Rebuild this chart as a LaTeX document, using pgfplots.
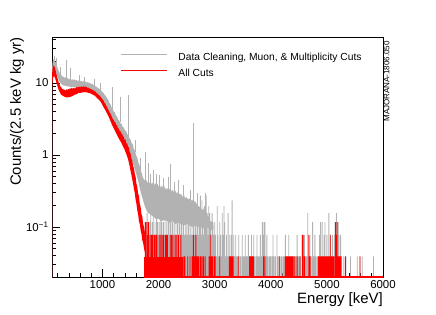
\documentclass[border=0pt]{standalone}
\usepackage{fontspec}
\setmainfont{Liberation Sans}
\usepackage{pgfplots}
\pgfplotsset{compat=1.18}
\definecolor{rgray}{rgb}{0.70,0.70,0.70}
\begin{document}
\begin{tikzpicture}
\path[use as bounding box] (0,0) rectangle (436bp,315bp);
\begin{axis}[
  at={(52bp,38bp)}, anchor=south west,
  scale only axis, width=331bp, height=240bp,
  xmin=100, xmax=6000, ymode=log, ymin=0.0202, ymax=43.5,
  log origin y=infty,
  axis on top=false,
  axis line style={line width=0.9bp},
  xtick={1000,2000,3000,4000,5000,6000},
  xticklabels={1000,2000,3000,4000,5000,6000},
  minor xtick={200,400,600,800,1200,1400,1600,1800,2200,2400,2600,2800,3200,3400,3600,3800,4200,4400,4600,4800,5200,5400,5600,5800},
  ytick={0.1,1,10},
  yticklabels={10\textsuperscript{\textminus1},1,10},
  minor ytick={0.03,0.04,0.05,0.06,0.07,0.08,0.09,0.2,0.3,0.4,0.5,0.6,0.7,0.8,0.9,2,3,4,5,6,7,8,9,20,30,40},
  xtick pos=bottom, ytick pos=left, tick align=inside,
  major tick length=8bp, minor tick length=4bp,
  tick style={black, line width=0.6bp},
  ticklabel style={font=\fontsize{11.5}{13}\selectfont},
  xlabel={Energy [keV]},
  xlabel style={at={(axis description cs:1,-0.096)}, anchor=east, font=\fontsize{15}{17}\selectfont, inner sep=0pt},
  ylabel={Counts/(2.5 keV kg yr)},
  ylabel style={at={(axis description cs:-0.1057,1)}, anchor=east, font=\fontsize{15}{17}\selectfont, inner sep=0pt},
  legend style={at={(axis description cs:0.2054,0.932)}, anchor=north west, draw=none, fill=none, inner sep=0pt, row sep=6.5bp, column sep=11bp, font=\fontsize{10.3}{12}\selectfont, nodes={inner sep=0pt, text height=7.4bp, text depth=2.1bp}},
  legend cell align=left,
  legend image code/.code={\draw[#1] (0bp,3.5bp) -- (46bp,3.5bp);},
  after end axis/.code={\node[rotate=90, font=\fontsize{8}{9}\selectfont, inner sep=0pt] at (rel axis cs:1.0106,0.8146) {MAJORANA-1806.050};},
]
% ---- gray: band
\addplot[draw=none, fill=rgray, forget plot] coordinates {
(100,0.005) (100,15) (108,18.5) (115,20.5) (125,21.5) (135,20.2) (145,21) (155,19.6) (165,19.8) (175,18.2) (185,17.6) (195,16.4) (210,15.4) (225,14.2) (240,13.8) (255,13.0) (270,12.8) (285,12.2) (300,12.3) (320,11.8) (340,12.0) (360,11.5) (380,11.7) (400,11.2) (420,11.4) (440,11.0) (460,11.3) (480,10.9) (500,11.2) (520,10.8) (540,11.0) (560,10.6) (580,10.9) (600,10.5) (620,10.8) (640,10.4) (660,10.6) (680,10.3) (700,10.5) (720,10.1) (740,10.3) (760,9.9) (780,10.0) (800,9.6) (820,9.7) (840,9.3) (860,9.3) (880,8.9) (900,8.9) (920,8.4) (940,8.4) (960,7.9) (980,7.9) (1000,7.4) (1020,7.3) (1040,6.8) (1060,6.6) (1080,6.1) (1100,5.9) (1120,5.3) (1140,5.1) (1160,4.6) (1180,4.4) (1200,4.0) (1220,3.9) (1240,3.5) (1260,3.4) (1280,3.1) (1300,3.0) (1320,2.75) (1340,2.7) (1360,2.45) (1380,2.4) (1400,2.2) (1420,2.15) (1440,1.95) (1460,1.9) (1480,1.7) (1500,1.65) (1520,1.45) (1540,1.4) (1560,1.2) (1580,1.15) (1600,0.98) (1620,0.92) (1640,0.78) (1660,0.72) (1680,0.6) (1700,0.56) (1720,0.48) (1740,0.46) (1760,0.44) (1780,0.45) (1800,0.41) (1820,0.44) (1840,0.40) (1860,0.43) (1880,0.39) (1900,0.42) (1920,0.38) (1940,0.41) (1960,0.37) (1980,0.40) (2000,0.36) (2020,0.39) (2040,0.35) (2060,0.38) (2080,0.34) (2100,0.37) (2125,0.33) (2150,0.35) (2175,0.32) (2200,0.34) (2225,0.31) (2250,0.33) (2275,0.3) (2300,0.32) (2325,0.29) (2350,0.31) (2375,0.28) (2400,0.29) (2425,0.26) (2450,0.28) (2475,0.25) (2500,0.26) (2525,0.24) (2550,0.25) (2575,0.23) (2600,0.24) (2625,0.22) (2650,0.23) (2675,0.21) (2700,0.2) (2725,0.19) (2750,0.19) (2775,0.17) (2800,0.18) (2825,0.16) (2850,0.16) (2875,0.14) (2900,0.14) (2925,0.12) (2950,0.12) (2975,0.105)
(2975,0.095) (2950,0.09) (2900,0.095) (2850,0.1) (2800,0.095) (2750,0.1) (2700,0.1) (2650,0.105) (2600,0.1) (2550,0.105) (2500,0.11) (2450,0.105) (2400,0.11) (2350,0.115) (2300,0.11) (2250,0.12) (2200,0.115) (2150,0.12) (2100,0.125) (2050,0.12) (2000,0.13) (1950,0.13) (1900,0.14) (1850,0.15) (1800,0.16) (1760,0.19) (1740,0.21) (1720,0.24) (1700,0.27) (1680,0.31) (1660,0.36) (1640,0.42) (1620,0.48) (1600,0.55) (1580,0.62) (1560,0.7) (1540,0.78) (1520,0.86) (1500,0.95) (1480,1.05) (1460,1.15) (1440,1.25) (1420,1.35) (1400,1.45) (1380,1.55) (1360,1.65) (1340,1.75) (1320,1.85) (1300,1.95) (1280,2.05) (1260,2.15) (1240,2.3) (1220,2.45) (1200,2.6) (1180,2.8) (1160,3.0) (1140,3.3) (1120,3.6) (1100,3.9) (1080,4.2) (1060,4.5) (1040,4.8) (1020,5.1) (1000,5.4) (980,5.7) (960,6.0) (940,6.3) (920,6.6) (900,6.9) (880,7.1) (860,7.3) (840,7.5) (820,7.7) (800,7.8) (780,7.9) (760,8.0) (740,8.1) (720,8.2) (700,8.3) (650,8.4) (600,8.5) (550,8.6) (500,8.7) (450,8.8) (400,8.9) (350,9.1) (300,9.3) (270,9.6) (240,10.3) (210,11.5) (180,13.3) (160,14.5) (140,15) (125,14.5) (110,13) (103,11) (103,0.005)
};
% ---- gray: tall single-bin spikes above the band
\addplot[rgray, line width=0.8bp, unbounded coords=jump, forget plot] coordinates {
(150,19) (150,23.5) (150,nan) (185,17) (185,22.5) (185,nan) (250,13) (250,16.5) (250,nan)
(362,11) (362,21) (362,nan) (420,11) (420,16) (420,nan)
(594,10.5) (594,13) (594,nan) (671,10.3) (671,12) (671,nan)
(860,9.2) (860,11.5) (860,nan) (960,7.8) (960,10) (960,nan)
(1177,4.4) (1177,8.7) (1177,nan)
(1314,2.9) (1314,6.4) (1314,nan) (1463,1.8) (1463,6.7) (1463,nan)
(1580,1.1) (1580,1.6) (1580,nan) (1680,0.6) (1680,0.9) (1680,nan)
(1773,0.4) (1773,1.1) (1773,nan) (1821,0.4) (1821,0.77) (1821,nan) (1850,0.4) (1850,0.55) (1850,nan) (1916,0.38) (1916,0.62) (1916,nan)
(1960,0.36) (1960,0.55) (1960,nan) (2020,0.36) (2020,0.52) (2020,nan) (2080,0.33) (2080,0.48) (2080,nan) (2170,0.3) (2170,0.5) (2170,nan)
(2204,0.3) (2204,0.75) (2204,nan) (2290,0.3) (2290,0.42) (2290,nan) (2350,0.28) (2350,0.45) (2350,nan) (2450,0.25) (2450,0.38) (2450,nan)
(2560,0.22) (2560,0.33) (2560,nan) (2615,0.22) (2615,2.8) (2615,nan) (2700,0.18) (2700,0.3) (2700,nan) (2830,0.15) (2830,0.3) (2830,nan)
};
% ---- gray: low-count bins in the tail (counts of 1,2,3,... = 0.039, 0.078, 0.117, ...)
\addplot[ybar, bar width=0.85bp, bar shift=0pt, draw=none, fill=rgray, forget plot] coordinates {
(1765,0.117) (1780,0.078) (1795,0.156) (1810,0.117) (1830,0.078) (1845,0.117) (1860,0.2) (1875,0.078) (1890,0.117) (1905,0.156) (1920,0.078) (1935,0.117) (1950,0.078) (1965,0.156) (1980,0.117) (1995,0.078) (2010,0.117) (2025,0.078) (2040,0.156) (2055,0.117) (2070,0.078) (2085,0.117) (2100,0.078) (2115,0.156) (2130,0.078) (2145,0.117) (2160,0.078) (2175,0.117) (2190,0.078) (2205,0.117) (2220,0.156) (2235,0.078) (2250,0.117) (2265,0.078) (2280,0.117) (2295,0.078) (2310,0.156) (2325,0.078) (2340,0.117) (2355,0.078) (2370,0.117) (2385,0.078) (2400,0.156) (2415,0.117) (2430,0.078) (2445,0.117) (2460,0.078) (2475,0.117) (2490,0.078) (2505,0.117) (2520,0.078) (2535,0.156) (2550,0.078) (2565,0.117) (2580,0.078) (2595,0.117) (2610,0.078) (2625,0.117) (2640,0.078) (2655,0.117) (2670,0.078) (2685,0.117) (2700,0.156) (2715,0.078) (2730,0.117) (2745,0.273) (2760,0.078) (2775,0.234) (2790,0.117) (2805,0.078) (2820,0.195) (2835,0.117) (2850,0.273) (2865,0.156) (2880,0.078) (2895,0.195) (2910,0.156) (2925,0.117) (2940,0.078) (2955,0.156) (2970,0.117) (2985,0.078) (3000,0.117) (3015,0.078) (3030,0.039) (3045,0.195) (3060,0.078) (3075,0.039) (3090,0.117) (3105,0.078) (3120,0.039) (3135,0.156) (3150,0.078) (3165,0.195) (3180,0.117) (3195,0.039) (3210,0.078) (3225,0.039) (3240,0.156) (3255,0.039) (3270,0.078) (3285,0.039) (3300,0.078) (3310,0.234) (3325,0.039) (3340,0.078) (3355,0.039) (3375,0.078) (3395,0.039) (3415,0.039) (3430,0.078) (3450,0.039) (3470,0.039) (3490,0.078) (3505,0.039) (3525,0.039) (3545,0.078) (3560,0.039) (3580,0.039) (3600,0.078) (3620,0.039) (3640,0.039) (3655,0.078) (3675,0.039) (3695,0.078) (3715,0.039) (3735,0.039) (3755,0.078) (3775,0.039) (3795,0.039) (3815,0.078) (3835,0.039) (3850,0.117) (3865,0.078) (3880,0.117) (3895,0.117) (3910,0.039) (3930,0.078) (3950,0.039) (3975,0.039) (3995,0.039) (4020,0.039) (4040,0.078) (4060,0.039) (4085,0.039) (4110,0.078) (4130,0.039) (4155,0.039) (4180,0.039) (4200,0.039) (4225,0.039) (4245,0.039) (4260,0.078) (4280,0.039) (4300,0.039) (4320,0.078) (4340,0.039) (4365,0.039) (4385,0.039) (4405,0.039) (4425,0.039) (4450,0.039) (4470,0.078) (4490,0.039) (4510,0.039) (4530,0.039) (4560,0.078) (4580,0.039) (4600,0.078) (4620,0.039) (4640,0.039) (4660,0.156) (4680,0.039) (4700,0.078) (4720,0.039) (4745,0.117) (4765,0.039) (4785,0.078) (4805,0.039) (4830,0.039) (4850,0.039) (4870,0.078) (4885,0.117) (4900,0.039) (4915,0.117) (4935,0.039) (4950,0.078) (4965,0.117) (4985,0.039) (5000,0.078) (5015,0.039) (5035,0.156) (5050,0.039) (5065,0.078) (5080,0.039) (5100,0.078) (5115,0.039) (5130,0.078) (5145,0.117) (5170,0.156) (5185,0.039) (5200,0.117) (5215,0.078) (5230,0.039) (5245,0.078) (5260,0.039) (5300,0.039) (5340,0.039) (5420,0.039) (5540,0.039) (5590,0.039) (5630,0.039) (5830,0.039)
};
% ---- red: band
\addplot[draw=none, fill=red, forget plot] coordinates {
(100,0.005) (100,12.5) (108,15.5) (115,16.8) (125,17.6) (135,16.5) (145,17.2) (155,15.8) (165,14.8) (175,13.6) (185,12.8) (195,11.8) (210,10.8) (225,9.8) (240,9.4) (255,8.8) (270,8.6) (285,8.2) (300,8.3) (315,7.9) (330,8.1) (345,7.8) (360,8.2) (375,8.0) (390,8.3) (405,8.1) (420,8.5) (435,8.2) (450,8.6) (465,8.3) (480,8.5) (495,8.3) (510,8.6) (525,8.5) (540,8.8) (555,8.6) (570,8.9) (585,8.7) (600,8.9) (615,8.7) (630,9.0) (645,8.8) (660,9.0) (675,8.8) (690,9.0) (705,8.7) (720,8.8) (735,8.5) (750,8.6) (765,8.3) (780,8.4) (795,8.1) (810,8.2) (825,7.9) (840,8.0) (855,7.6) (870,7.7) (885,7.3) (900,7.3) (915,7.0) (930,6.9) (945,6.7) (960,6.6) (975,6.2) (990,6.1) (1005,5.8) (1020,5.7) (1035,5.3) (1050,5.2) (1065,4.8) (1080,4.7) (1095,4.3) (1110,4.2) (1125,3.9) (1140,3.8) (1155,3.5) (1170,3.4) (1185,3.1) (1200,3.1) (1215,2.85) (1230,2.85) (1245,2.6) (1260,2.6) (1275,2.35) (1290,2.35) (1305,2.15) (1320,2.15) (1335,1.95) (1350,2.0) (1365,1.8) (1380,1.8) (1395,1.6) (1410,1.65) (1425,1.45) (1440,1.45) (1455,1.3) (1470,1.28) (1485,1.1) (1500,1.05) (1515,0.9) (1530,0.85) (1545,0.7) (1560,0.66) (1575,0.55) (1590,0.5) (1605,0.4) (1620,0.36) (1635,0.29) (1650,0.27) (1665,0.21) (1680,0.19) (1695,0.15) (1710,0.14) (1725,0.11) (1740,0.1) (1755,0.085)
(1755,0.045) (1740,0.05) (1725,0.06) (1710,0.065) (1695,0.08) (1680,0.09) (1665,0.11) (1650,0.12) (1635,0.15) (1620,0.17) (1605,0.21) (1590,0.24) (1575,0.3) (1560,0.34) (1545,0.4) (1530,0.46) (1515,0.53) (1500,0.6) (1485,0.7) (1470,0.78) (1455,0.88) (1440,0.95) (1425,1.03) (1410,1.1) (1395,1.18) (1380,1.25) (1365,1.32) (1350,1.4) (1335,1.48) (1320,1.55) (1305,1.62) (1290,1.7) (1275,1.8) (1260,1.9) (1245,2.0) (1230,2.1) (1215,2.22) (1200,2.35) (1185,2.48) (1170,2.6) (1155,2.8) (1140,3.0) (1125,3.2) (1110,3.4) (1095,3.6) (1080,3.8) (1065,4.0) (1050,4.2) (1035,4.4) (1020,4.6) (1005,4.85) (990,5.1) (975,5.35) (960,5.6) (945,5.75) (930,5.9) (915,6.05) (900,6.2) (885,6.4) (870,6.6) (855,6.7) (840,6.8) (825,6.9) (810,7.0) (795,7.1) (780,7.2) (765,7.25) (750,7.3) (735,7.35) (720,7.4) (705,7.45) (690,7.5) (675,7.45) (660,7.4) (645,7.4) (630,7.4) (615,7.3) (600,7.3) (585,7.3) (570,7.3) (555,7.1) (540,7.0) (525,6.95) (510,6.9) (495,6.8) (480,6.7) (465,6.6) (450,6.5) (435,6.45) (420,6.4) (405,6.35) (390,6.3) (375,6.3) (360,6.3) (345,6.35) (330,6.4) (315,6.5) (300,6.6) (285,6.7) (270,6.8) (255,7.0) (240,7.4) (225,7.8) (210,8.4) (195,9.2) (180,10.0) (165,11.0) (150,12.0) (140,12.4) (130,12.3) (120,11.8) (110,10.5) (103,9) (103,0.005)
};
% ---- red: one-count bins, nearly every bin filled from 1745 to 2430 keV
\addplot[draw=none, fill=red, forget plot] coordinates {(1745,0.005) (1745,0.0387) (2430,0.0387) (2430,0.005)};
% ---- red: isolated bins in the tail
\addplot[ybar, bar width=0.9bp, bar shift=0pt, draw=none, fill=red, forget plot] coordinates {
(1765,0.117) (1790,0.117) (1805,0.078) (1820,0.117) (1850,0.078) (1875,0.078) (1898,0.078) (1927,0.078) (1950,0.078) (1970,0.078) (2011,0.078) (2041,0.078) (2065,0.078) (2088,0.078) (2118,0.078) (2140,0.078) (2159,0.078) (2207,0.078) (2230,0.078) (2255,0.078) (2296,0.078) (2327,0.078) (2355,0.078) (2398,0.078)
(2450,0.039) (2470,0.039) (2520,0.039) (2560,0.039) (2595,0.039) (2605,0.039) (2620,0.078) (2635,0.039) (2650,0.039) (2665,0.078) (2680,0.039) (2700,0.039) (2720,0.039) (2750,0.039) (2775,0.039) (2800,0.039) (2830,0.039) (2900,0.039) (2921,0.078) (2940,0.039) (2960,0.039) (2990,0.039) (3010,0.039) (3090,0.039) (3260,0.039) (3275,0.039) (3290,0.039) (3310,0.039) (3330,0.039) (3420,0.039) (3620,0.039) (3640,0.039) (3655,0.039) (3670,0.039) (3690,0.039) (3870,0.039) (3895,0.039) (4150,0.039) (4260,0.039) (4275,0.039) (4290,0.039) (4305,0.039) (4320,0.039) (4340,0.039) (4360,0.039) (4380,0.039) (4400,0.039) (4430,0.039) (4470,0.039) (4520,0.039) (4560,0.078) (4575,0.078) (4600,0.039) (4680,0.078) (4700,0.039) (4850,0.039) (4870,0.039) (4890,0.039) (4910,0.039) (4930,0.039) (4950,0.039) (4965,0.039) (4985,0.039) (5000,0.039) (5020,0.039) (5040,0.039) (5060,0.078) (5075,0.039) (5090,0.039) (5110,0.039) (5130,0.039) (5155,0.117) (5170,0.078) (5185,0.117) (5200,0.039) (5215,0.039) (5230,0.039) (5250,0.039) (5330,0.039) (5590,0.039)
};
% ---- red: empty bins drawn along the bottom
\addplot[red, line width=2bp, forget plot] coordinates {(1745,0.0202) (6000,0.0202)};
% ---- legend
\addlegendimage{rgray, line width=1bp}
\addlegendentry{Data Cleaning, Muon, \& Multiplicity Cuts}
\addlegendimage{red, line width=1.3bp}
\addlegendentry{All Cuts}
\end{axis}
\end{tikzpicture}
\end{document}
